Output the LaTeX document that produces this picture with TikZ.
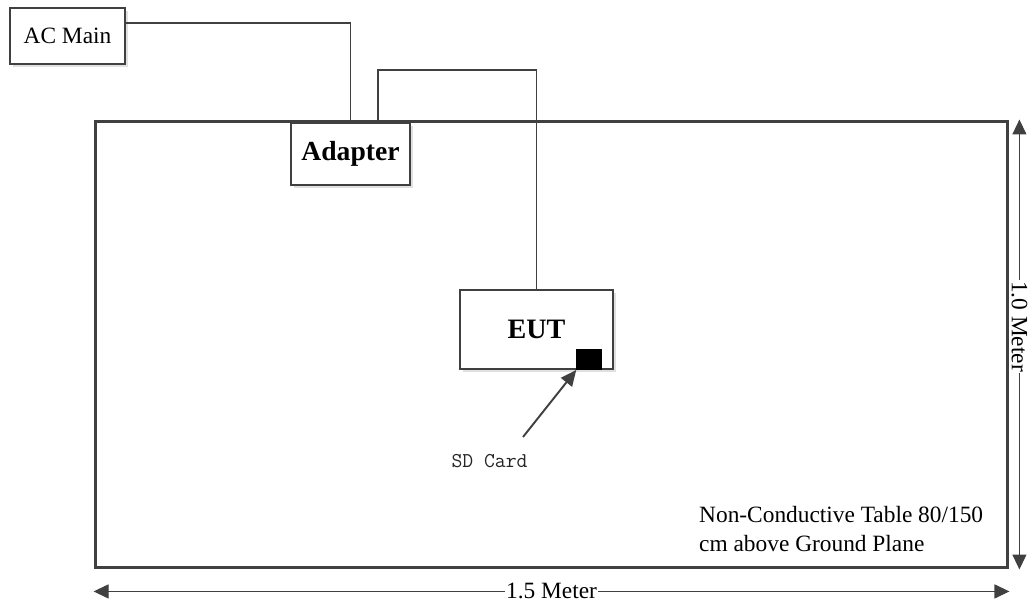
\documentclass[tikz,border=0pt]{standalone}
\usepackage{fontspec}
\setmainfont{Liberation Serif}
\usepackage{tikz}
\usetikzlibrary{arrows.meta,shadows}

\definecolor{linegray}{HTML}{404040}

\tikzset{
  box/.style={draw=linegray, line width=1.1pt, fill=white, inner sep=0pt,
    drop shadow={shadow xshift=1.5pt, shadow yshift=-1.5pt, fill=black!12, opacity=1}},
  dimline/.style={draw=linegray, line width=0.6pt,
    {Triangle[length=8.5pt,width=8pt]}-{Triangle[length=8.5pt,width=8pt]}},
  label/.style={font=\fontsize{13.3}{16}\selectfont}
}

\begin{document}
\begin{tikzpicture}[x=0.02cm, y=0.02cm]
          \useasboundingbox (0,0) rectangle (1030,607);
          % table
          \node[draw=linegray, line width=1.7pt, minimum width=18.26cm, minimum height=8.94cm, inner sep=0pt] (table) at (551.5,262.5) {};
          \node[label, anchor=west, align=left] (tablenote) at (693,78) {Non-Conductive Table 80/150\\cm above Ground Plane};
          % AC Main and Adapter
          \node[box, label, minimum width=2.3cm, minimum height=1.12cm] (acmain) at (67.5,571) {AC Main};
          \node[box, minimum width=2.38cm, minimum height=1.24cm, font=\fontsize{15.7}{18}\selectfont\bfseries] (adapter) at (350.5,453) {Adapter};
          % EUT and SD card
          \node[box, minimum width=3.06cm, minimum height=1.58cm, font=\fontsize{16}{19}\selectfont\bfseries] (eut) at (536.5,277.5) {EUT};
          \node[fill=black, draw=black, minimum width=0.5cm, minimum height=0.4cm, inner sep=0pt, anchor=south east] (sdcard) at ([xshift=-0.24cm]eut.south east) {};
          \node[font=\ttfamily\fontsize{12}{14}\selectfont, text=black!85] (sdlabel) at (489.5,146) {SD Card};
          \coordinate (sdtail) at (523,170);
          % cables
          \draw[linegray, line width=1.1pt] ([yshift=0.26cm]acmain.east) -| (adapter.north);
          \draw[linegray, line width=0.6pt] ([xshift=0.55cm]adapter.north) -- ++(0,52) -| (eut.north);
          \draw[linegray, line width=1.1pt, -{Triangle[length=9pt,width=8pt]}] (sdtail) -- (sdcard.south west);
          % dimensions
          \draw[dimline] ([yshift=-0.44cm]table.south west) -- node[label, fill=white, inner sep=0.5pt] (width) {1.5 Meter} ([yshift=-0.44cm]table.south east);
          \draw[dimline] ([xshift=0.2cm]table.north east) -- node[label, fill=white, inner sep=0.5pt, rotate=-90, pos=0.46] (depth) {1.0 Meter} ([xshift=0.2cm]table.south east);
        \end{tikzpicture}
\end{document}
